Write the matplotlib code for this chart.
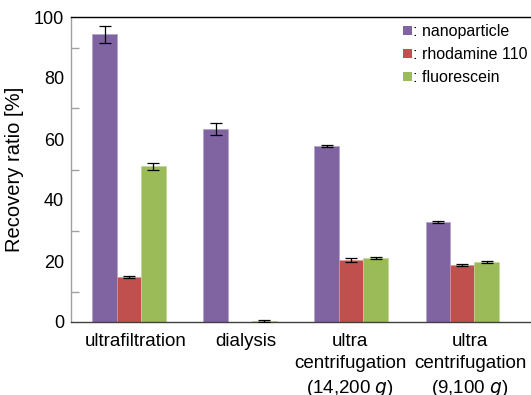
import matplotlib
matplotlib.use("Agg")
import matplotlib.pyplot as plt
import numpy as np
from matplotlib.patches import Rectangle

plt.rcParams['font.family'] = ['Liberation Sans', 'DejaVu Sans']

methods = ["ultrafiltration", "dialysis", "ultra\ncentrifugation\n(14,200 $g$)", "ultra\ncentrifugation\n(9,100 $g$)"]
series = [": nanoparticle", ": rhodamine 110", ": fluorescein"]
nanoparticle = [94.3, 63.2, 57.7, 32.8]
nanoparticle_err = [2.8, 2.0, 0.3, 0.3]
rhodamine = [14.7, 0.0, 20.2, 18.7]
rhodamine_err = [0.3, 0.0, 0.65, 0.3]
fluorescein = [51.1, 0.3, 21.0, 19.6]
fluorescein_err = [1.1, 0.2, 0.3, 0.4]

colors = ['#8064A2', '#C0504D', '#9BBB59']
edges = ['#B3A2C7', '#D99694', '#C3D69B']
values = [nanoparticle, rhodamine, fluorescein]
errors = [nanoparticle_err, rhodamine_err, fluorescein_err]

fig = plt.figure(figsize=(5.31, 3.95), dpi=100)
ax = fig.add_axes([71/531, 1-322/395, 1-71/531, (322-17)/395])

barWidth = 0.22
x = np.arange(len(methods))
for i in range(3):
	pos = x + (i-1)*barWidth
	ax.bar(pos, values[i], width=barWidth, color=colors[i], edgecolor=edges[i], linewidth=0.5, zorder=2)
	err = np.array(errors[i])
	mask = err > 0
	ax.errorbar(pos[mask], np.array(values[i])[mask], yerr=err[mask], fmt='none', ecolor='black',
		elinewidth=0.9, capsize=4, capthick=0.9, zorder=3)

ax.set_xlim(-0.5225, 3.62)
ax.set_ylim(0, 100)
# the category labels sit a little off the group centres in the original
label_shift = np.array([0.063, 0.054, -0.01, 0.072])
ax.set_xticks(x + label_shift)
ax.set_xticklabels(methods, fontsize=13.5, linespacing=1.4)
ax.set_yticks([0, 20, 40, 60, 80, 100])
ax.set_yticks([10, 30, 50, 70, 90], minor=True)
ax.tick_params(axis='y', which='major', length=0, pad=5, labelsize=13)
ax.tick_params(axis='y', which='minor', direction='in', length=6, color='#A0A0A0', width=1)
ax.tick_params(axis='x', length=0, pad=8)
ax.set_ylabel('Recovery ratio [%]', fontsize=14.5, labelpad=7)

ax.spines['right'].set_visible(False)
ax.spines['top'].set_color('black')
ax.spines['left'].set_color('#A0A0A0')
ax.spines['bottom'].set_color('#404040')
for s in ['top', 'left', 'bottom']:
	ax.spines[s].set_linewidth(1)

handles = [Rectangle((0, 0), 1, 1, facecolor=c, edgecolor='none') for c in colors]
leg = fig.legend(handles, series, loc='upper left', bbox_to_anchor=(403/531, 1-24/395),
	frameon=False, fontsize=11.5, handlelength=0.55, handleheight=0.55, handletextpad=0.1,
	labelspacing=0.5, borderaxespad=0, borderpad=0)

fig.savefig("out.png", dpi=100)
